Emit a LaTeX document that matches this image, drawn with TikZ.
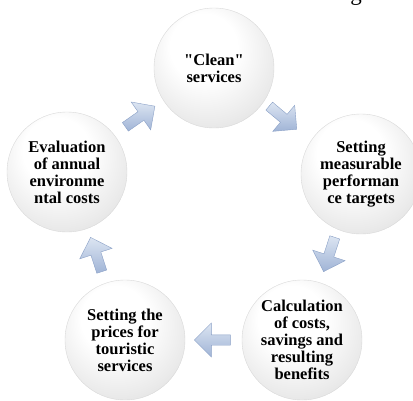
\documentclass[tikz,border=0pt]{standalone}
\usepackage{fontspec}
\setmainfont{Liberation Serif}
\usetikzlibrary{shapes.arrows}

\definecolor{arrowfill}{RGB}{160,180,214}
\definecolor{arrowlight}{RGB}{220,229,242}
\definecolor{arrowedge}{RGB}{138,160,198}

\pgfdeclareradialshading{sphere}{\pgfpoint{-6bp}{12bp}}{%
  color(0bp)=(white); color(14bp)=(white); color(28bp)=(black!8);
  color(40bp)=(black!16); color(48bp)=(black!30); color(50bp)=(black!14)}

\begin{document}
\begin{tikzpicture}[x=1pt,y=-1pt,
  ball/.style={circle,draw=black!15,shading=sphere,minimum size=120pt,inner sep=0pt,
    align=center,font=\fontsize{16.5}{17}\selectfont\bfseries},
  blockarr/.style={single arrow,draw=arrowedge,thin,top color=arrowlight,bottom color=arrowfill,
    minimum height=36pt,minimum width=34pt,single arrow head extend=5pt,inner sep=2pt}]
\useasboundingbox (0,0) rectangle (413,400);

\node[anchor=base,font=\fontsize{23}{23}\selectfont](pg) at (356,0){g};

\node[ball](clean) at (214,68){\textquotedbl Clean\textquotedbl\\services};
\node[ball](targets) at (361,174){Setting\\measurable\\performan\\ce targets};
\node[ball](calc) at (302,340){Calculation\\of costs,\\savings and\\resulting\\benefits};
\node[ball](prices) at (125,340){Setting the\\prices for\\touristic\\services};
\node[ball](eval) at (67,172){Evaluation\\of annual\\environme\\ntal costs};

\node[blockarr,rotate=35](a1) at (138,118){};
\node[blockarr,rotate=-40](a2) at (281,116){};
\node[blockarr,rotate=-108](a3) at (330,252){};
\node[blockarr,rotate=180](a4) at (215,340){};
\node[blockarr,rotate=108](a5) at (97,257){};
\end{tikzpicture}
\end{document}
